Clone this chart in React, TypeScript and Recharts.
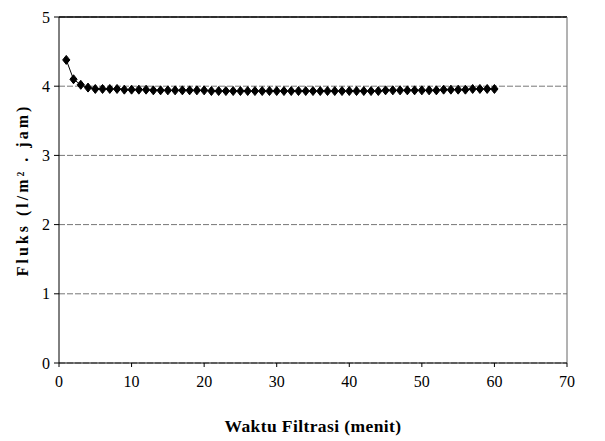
import React from "react";
import { LineChart, Line, XAxis, YAxis, CartesianGrid, ReferenceLine } from "recharts";

const minutes: number[] = Array.from({ length: 60 }, (_, i) => i + 1);
const flux: number[] = [
  4.38, 4.1, 4.02, 3.98, 3.96, 3.96, 3.96, 3.96, 3.95, 3.95,
  3.95, 3.95, 3.94, 3.94, 3.94, 3.94, 3.94, 3.94, 3.94, 3.94,
  3.93, 3.93, 3.93, 3.93, 3.93, 3.93, 3.93, 3.93, 3.93, 3.93,
  3.93, 3.93, 3.93, 3.93, 3.93, 3.93, 3.93, 3.93, 3.93, 3.93,
  3.93, 3.93, 3.93, 3.93, 3.94, 3.94, 3.94, 3.94, 3.94, 3.94,
  3.94, 3.94, 3.95, 3.95, 3.95, 3.95, 3.96, 3.96, 3.96, 3.96,
];
const xTicks: number[] = [0, 10, 20, 30, 40, 50, 60, 70];
const yTicks: number[] = [0, 1, 2, 3, 4, 5];

const data = minutes.map((m, i) => ({ x: m, y: flux[i] }));

const Diamond = (props: any) => {
  const { cx, cy } = props;
  if (cx == null || cy == null) return null;
  const r = 4.5;
  return (
    <path
      d={`M${cx},${cy - r} L${cx + r * 0.8},${cy} L${cx},${cy + r} L${cx - r * 0.8},${cy} Z`}
      fill="#000"
      stroke="#000"
    />
  );
};

const font = "'Liberation Serif', 'DejaVu Serif', serif";

export default function App() {
  return (
    <div style={{ position: "absolute", left: 0, top: 0, width: 605, height: 441, background: "#fff" }}>
      <LineChart width={605} height={441} data={data} margin={{ top: 17, right: 38, bottom: 0, left: 0 }}>
        <CartesianGrid horizontal vertical={false} stroke="#777" strokeDasharray="6 2" />
        <XAxis
          type="number"
          dataKey="x"
          domain={[0, 70]}
          ticks={xTicks}
          height={78}
          tickSize={4}
          tickMargin={9}
          stroke="#000"
          tick={{ fill: "#000", fontSize: 16, fontFamily: font }}
          label={{ value: "Waktu Filtrasi (menit)", position: "insideBottom", offset: 9, fill: "#000", fontSize: 17.5, fontWeight: "bold", fontFamily: font, style: { letterSpacing: 0.4 } }}
        />
        <YAxis
          type="number"
          domain={[0, 5]}
          ticks={yTicks}
          width={59}
          tickSize={5}
          tickMargin={4}
          stroke="#000"
          tick={{ fill: "#000", fontSize: 16, fontFamily: font }}
          label={{ value: "Fluks (l/m² . jam)", angle: -90, position: "insideLeft", offset: 22, fill: "#000", fontSize: 16, fontWeight: "bold", fontFamily: font, style: { textAnchor: "middle", letterSpacing: 3 } }}
        />
        <ReferenceLine y={5} stroke="#000" strokeWidth={1.5} />
        <ReferenceLine x={70} stroke="#666" />
        <Line
          type="linear"
          dataKey="y"
          stroke="#000"
          strokeWidth={1}
          dot={<Diamond />}
          isAnimationActive={false}
        />
      </LineChart>
    </div>
  );
}
